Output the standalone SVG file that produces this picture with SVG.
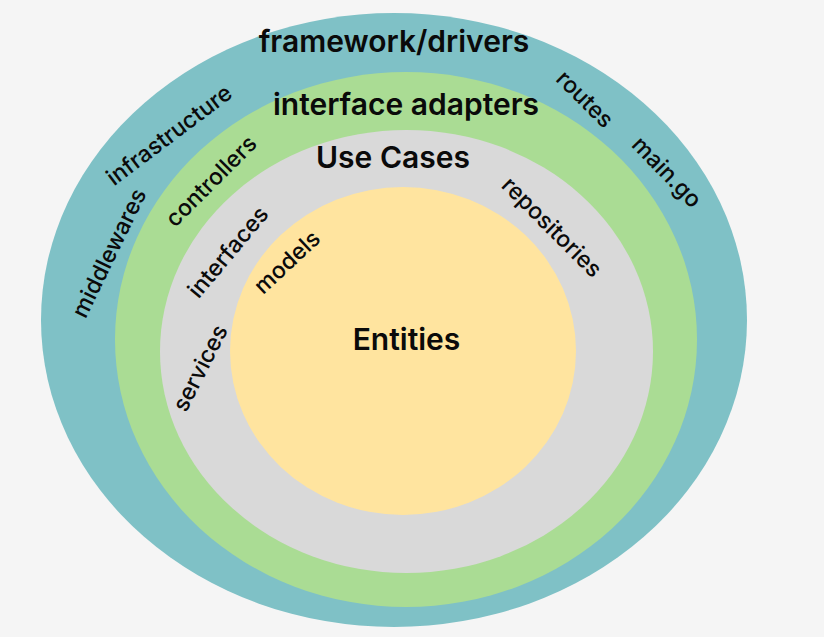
<svg xmlns="http://www.w3.org/2000/svg" width="824" height="637" viewBox="0 0 824 637">
  <style>
    .title { font-family: Inter, "Noto Sans", "Liberation Sans", sans-serif; font-weight: 600; font-size: 30px; fill: #0a0a0a; text-anchor: middle; }
    .lbl { font-family: Inter, "Noto Sans", "Liberation Sans", sans-serif; font-weight: 500; font-size: 23px; fill: #0a0a0a; text-anchor: middle; }
  </style>
  <rect width="824" height="637" fill="#f5f5f5"/>
  <g id="framework-drivers">
    <ellipse cx="394" cy="320" rx="353" ry="307" fill="#7fc1c6"/>
    <text class="title" x="394" y="52">framework/drivers</text>
    <text class="lbl" transform="translate(169,135) rotate(-37)" dy="8">infrastructure</text>
    <text class="lbl" transform="translate(109,253) rotate(-64)" dy="8">middlewares</text>
    <text class="lbl" transform="translate(585,99) rotate(45)" dy="8">routes</text>
    <text class="lbl" transform="translate(667,172) rotate(46)" dy="8">main.go</text>
  </g>
  <g id="interface-adapters">
    <ellipse cx="406" cy="339.5" rx="291" ry="267.5" fill="#aadc94"/>
    <text class="title" x="406" y="115">interface adapters</text>
    <text class="lbl" transform="translate(211,181) rotate(-45)" dy="8">controllers</text>
  </g>
  <g id="use-cases">
    <ellipse cx="406.5" cy="351.5" rx="246.5" ry="221.5" fill="#d9d9d9"/>
    <text class="title" x="393" y="168">Use Cases</text>
    <text class="lbl" transform="translate(228,252) rotate(-50)" dy="8">interfaces</text>
    <text class="lbl" transform="translate(200,368) rotate(-63)" dy="8">services</text>
    <text class="lbl" transform="translate(552,227) rotate(45)" dy="8">repositories</text>
  </g>
  <g id="entities">
    <ellipse cx="403" cy="351" rx="173" ry="164" fill="#ffe49f"/>
    <text class="title" x="406.5" y="350">Entities</text>
    <text class="lbl" transform="translate(287,262) rotate(-43)" dy="8">models</text>
  </g>
  <g id="connectors"/>
</svg>
